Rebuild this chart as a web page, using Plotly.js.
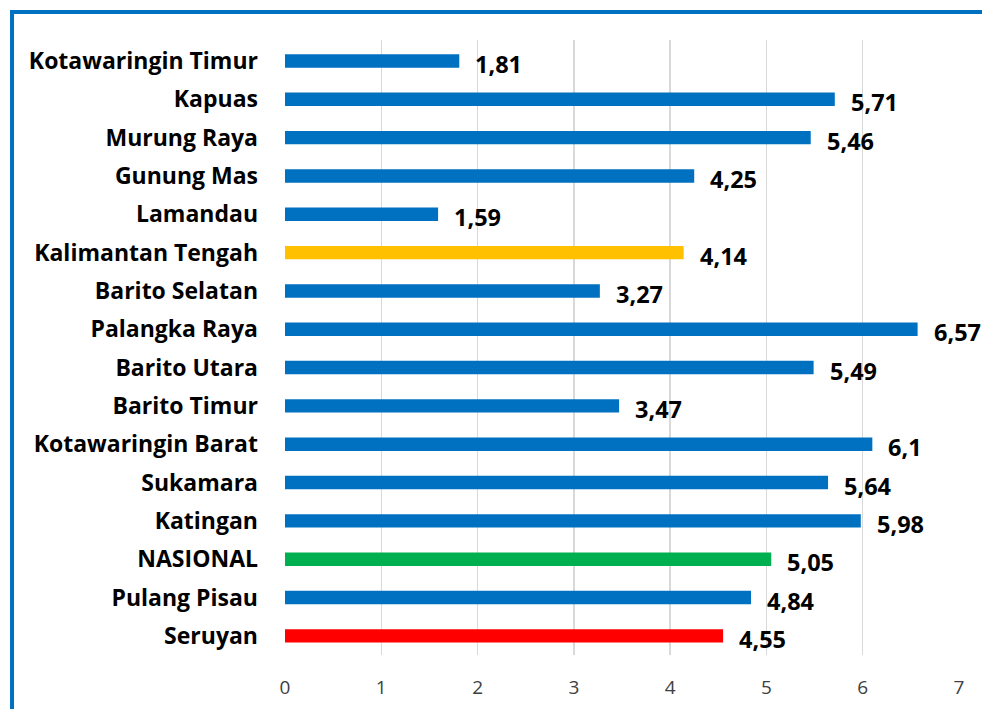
<!DOCTYPE html>
<html>
<head>
<meta charset="utf-8">
<script src="https://cdn.plot.ly/plotly-3.0.1.min.js"></script>
<style>html,body{margin:0;padding:0;background:#fff;}#chart{width:982px;height:709px;}</style>
</head>
<body>
<div id="chart"></div>
<script>
const categories = ["Kotawaringin Timur","Kapuas","Murung Raya","Gunung Mas","Lamandau","Kalimantan Tengah","Barito Selatan","Palangka Raya","Barito Utara","Barito Timur","Kotawaringin Barat","Sukamara","Katingan","NASIONAL","Pulang Pisau","Seruyan"];
const values = [1.81,5.71,5.46,4.25,1.59,4.14,3.27,6.57,5.49,3.47,6.1,5.64,5.98,5.05,4.84,4.55];
const barColors = ["#0070C0","#0070C0","#0070C0","#0070C0","#0070C0","#FFC000","#0070C0","#0070C0","#0070C0","#0070C0","#0070C0","#0070C0","#0070C0","#00B050","#0070C0","#FF0000"];
const xTicks = [0,1,2,3,4,5,6,7];

const labelFont = "Open Sans, Noto Sans, sans-serif";

const trace = {
  type: "bar",
  orientation: "h",
  x: values,
  y: categories,
  width: 0.35,
  marker: {color: barColors, line: {width: 0}},
  hoverinfo: "none"
};

const annotations = values.map((v, i) => ({
  x: v, y: categories[i], xref: "x", yref: "y",
  text: String(v).replace(".", ","),
  showarrow: false, xanchor: "left", yanchor: "middle",
  xshift: 14, yshift: -3,
  font: {family: labelFont, size: 23.5, color: "#000", weight: "bold"}
}));

const layout = {
  width: 982, height: 709,
  margin: {l: 285, r: 23, t: 40, b: 54},
  paper_bgcolor: "#fff", plot_bgcolor: "#fff",
  showlegend: false,
  xaxis: {
    range: [0, 7], tickvals: xTicks, ticktext: xTicks.map(String),
    showgrid: true, gridcolor: "#D9D9D9", gridwidth: 1.5,
    zeroline: false, showline: false, ticks: "",
    ticklabelstandoff: 19,
    tickfont: {family: labelFont, size: 19, color: "#404040"},
    fixedrange: true
  },
  yaxis: {
    type: "category", autorange: "reversed",
    showgrid: false, zeroline: false, showline: false, ticks: "",
    ticklabelstandoff: 26,
    tickfont: {family: labelFont, size: 23, color: "#000", weight: "bold"},
    fixedrange: true
  },
  annotations: annotations,
  shapes: [{
    type: "rect", xref: "paper", yref: "paper",
    x0: -0.405, x1: 1.2, y0: -0.3, y1: 1.0455,
    line: {color: "#0070C0", width: 4}, fillcolor: "rgba(0,0,0,0)", layer: "above"
  }]
};

Plotly.newPlot("chart", [trace], layout, {displayModeBar: false, staticPlot: true});
</script>
</body>
</html>
